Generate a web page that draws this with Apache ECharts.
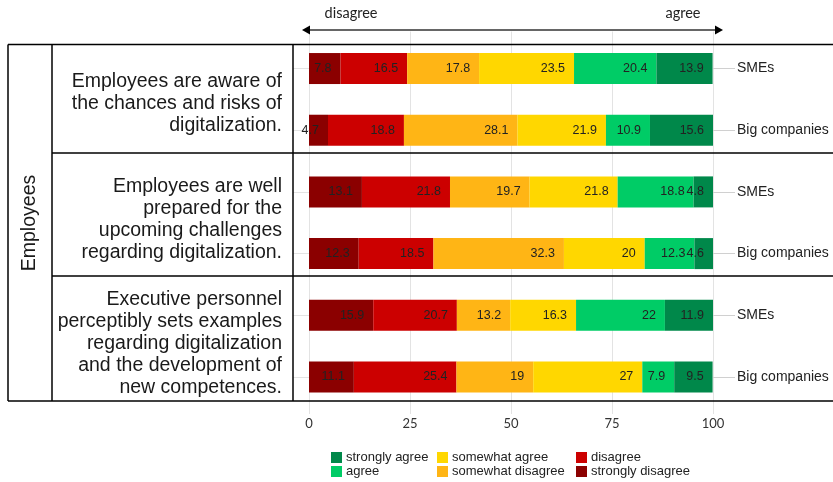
<!DOCTYPE html>
<html>
<head>
<meta charset="utf-8">
<script src="https://cdn.jsdelivr.net/npm/echarts@6/dist/echarts.min.js"></script>
<style>
html,body{margin:0;padding:0;background:#fff;}
#chart{width:833px;height:482px;}
</style>
</head>
<body>
<div id="chart"></div>
<script>
// ---- data ----
const categories = ['SMEs', 'Big companies', 'SMEs', 'Big companies', 'SMEs', 'Big companies'];
const questions = [
  'Employees are aware of\nthe chances and risks of\ndigitalization.',
  'Employees are well\nprepared for the\nupcoming challenges\nregarding digitalization.',
  'Executive personnel\nperceptibly sets examples\nregarding digitalization\nand the development of\nnew competences.'
];
const groupLabel = 'Employees';
const stronglyDisagree = [7.8, 4.7, 13.1, 12.3, 15.9, 11.1];
const disagree         = [16.5, 18.8, 21.8, 18.5, 20.7, 25.4];
const somewhatDisagree = [17.8, 28.1, 19.7, 32.3, 13.2, 19];
const somewhatAgree    = [23.5, 21.9, 21.8, 20, 16.3, 27];
const agree            = [20.4, 10.9, 18.8, 12.3, 22, 7.9];
const stronglyAgree    = [13.9, 15.6, 4.8, 4.6, 11.9, 9.5];
const xMin = 0, xMax = 100, xInterval = 25;
const arrowLeftText = 'disagree', arrowRightText = 'agree';

// ---- styles ----
const colors = {
  'strongly disagree': '#8B0000',
  'disagree': '#CC0000',
  'somewhat disagree': '#FFB515',
  'somewhat agree': '#FFD700',
  'agree': '#00CC66',
  'strongly agree': '#00884A'
};
const seriesDefs = [
  ['strongly disagree', stronglyDisagree],
  ['disagree', disagree],
  ['somewhat disagree', somewhatDisagree],
  ['somewhat agree', somewhatAgree],
  ['agree', agree],
  ['strongly agree', stronglyAgree]
];
const gridColor = '#e3e3e3';
const txt = '#1a1a1a';

const chart = echarts.init(document.getElementById('chart'), null, {renderer: 'canvas'});

const series = seriesDefs.map(([name, vals]) => ({
  name: name,
  type: 'bar',
  stack: 'total',
  xAxisIndex: 1,
  yAxisIndex: 1,
  barWidth: 31,
  itemStyle: {color: colors[name]},
  label: {
    show: true,
    position: 'insideRight',
    distance: 9,
    fontFamily: 'Liberation Sans, Arial, sans-serif',
    fontSize: 12.5,
    color: '#222',
    textBorderWidth: 0
  },
  emphasis: {disabled: true},
  animation: false,
  data: vals
}));

// table geometry (decoration)
const T = {left: 8, col1: 52, col2: 293, right: 833, top: 44.5, rows: [153, 276], bottom: 401};
const lineStyle = {stroke: '#000', lineWidth: 1.5};
const graphics = [];
function hline(y, x1, x2) {
  graphics.push({type: 'line', z: 100, shape: {x1: x1, y1: y, x2: x2, y2: y}, style: lineStyle});
}
function vline(x, y1, y2) {
  graphics.push({type: 'line', z: 100, shape: {x1: x, y1: y1, x2: x, y2: y2}, style: lineStyle});
}
hline(T.top, T.left, T.right);
hline(T.bottom, T.left, T.right);
T.rows.forEach(y => hline(y, T.col1, T.right));
vline(T.left, T.top, T.bottom);
vline(T.col1, T.top, T.bottom);
vline(T.col2, T.top, T.bottom);

const cellBounds = [T.top, T.rows[0], T.rows[1], T.bottom];
questions.forEach((q, i) => {
  graphics.push({
    type: 'text', z: 100,
    x: 282, y: (cellBounds[i] + cellBounds[i + 1]) / 2 + 5,
    style: {
      text: q, fill: txt,
      font: '19.5px "Liberation Sans", Arial, sans-serif',
      align: 'right', verticalAlign: 'middle', lineHeight: 22
    }
  });
});
graphics.push({
  type: 'text', z: 100,
  x: 30, y: 223, rotation: Math.PI / 2,
  style: {
    text: groupLabel, fill: txt,
    font: '19.5px "Liberation Sans", Arial, sans-serif',
    align: 'center', verticalAlign: 'middle'
  }
});
// arrow
graphics.push({type: 'line', z: 100, shape: {x1: 306, y1: 30, x2: 719, y2: 30}, style: {stroke: '#333', lineWidth: 1.5}});
graphics.push({type: 'polygon', z: 100, shape: {points: [[302, 30], [310, 25.5], [310, 34.5]]}, style: {fill: '#000'}});
graphics.push({type: 'polygon', z: 100, shape: {points: [[723, 30], [715, 25.5], [715, 34.5]]}, style: {fill: '#000'}});
graphics.push({type: 'text', z: 100, x: 351, y: 13, style: {text: arrowLeftText, fill: '#222', font: '14.5px Lato, "Open Sans", sans-serif', align: 'center', verticalAlign: 'middle'}});
graphics.push({type: 'text', z: 100, x: 683, y: 13, style: {text: arrowRightText, fill: '#222', font: '14.5px Lato, "Open Sans", sans-serif', align: 'center', verticalAlign: 'middle'}});

const legendCommon = {
  orient: 'vertical',
  top: 451,
  itemWidth: 11,
  itemHeight: 11,
  itemGap: 1,
  padding: 0,
  icon: 'rect',
  selectedMode: false,
  textStyle: {fontFamily: 'Liberation Sans, Arial, sans-serif', fontSize: 13, color: '#222', lineHeight: 13, padding: [0, 0, 0, -1]}
};

const option = {
  animation: false,
  backgroundColor: '#fff',
  grid: [
    {left: 309, right: 120, top: 31.5, bottom: 68},
    {left: 309, right: 120, top: 37.7, bottom: 74.2}
  ],
  xAxis: [
    {
      gridIndex: 0, type: 'value', min: xMin, max: xMax, interval: xInterval,
      axisLine: {show: false}, axisTick: {show: false},
      splitLine: {show: true, lineStyle: {color: gridColor, width: 1}},
      axisLabel: {margin: 3, fontFamily: 'Lato, "Open Sans", sans-serif', fontSize: 13, color: '#333'}
    },
    {gridIndex: 1, type: 'value', min: xMin, max: xMax, show: false}
  ],
  yAxis: [
    {gridIndex: 0, type: 'value', show: false},
    {
      gridIndex: 1, type: 'category', inverse: true, position: 'left', data: categories,
      axisLine: {show: false},
      axisTick: {show: true, alignWithLabel: true, length: 16, lineStyle: {color: gridColor}},
      axisLabel: {show: false}, splitLine: {show: false}
    },
    {
      gridIndex: 1, type: 'category', inverse: true, position: 'right', data: categories,
      axisLine: {show: false},
      axisTick: {show: true, alignWithLabel: true, length: 22, lineStyle: {color: '#d0d0d0'}},
      axisLabel: {show: true, margin: 24, fontFamily: 'Liberation Sans, Arial, sans-serif', fontSize: 14, color: '#222'},
      splitLine: {show: false}
    }
  ],
  legend: [
    Object.assign({}, legendCommon, {left: 331, data: ['strongly agree', 'agree']}),
    Object.assign({}, legendCommon, {left: 437, data: ['somewhat agree', 'somewhat disagree']}),
    Object.assign({}, legendCommon, {left: 576, data: ['disagree', 'strongly disagree']})
  ],
  series: series,
  graphic: graphics
};
chart.setOption(option);
</script>
</body>
</html>
